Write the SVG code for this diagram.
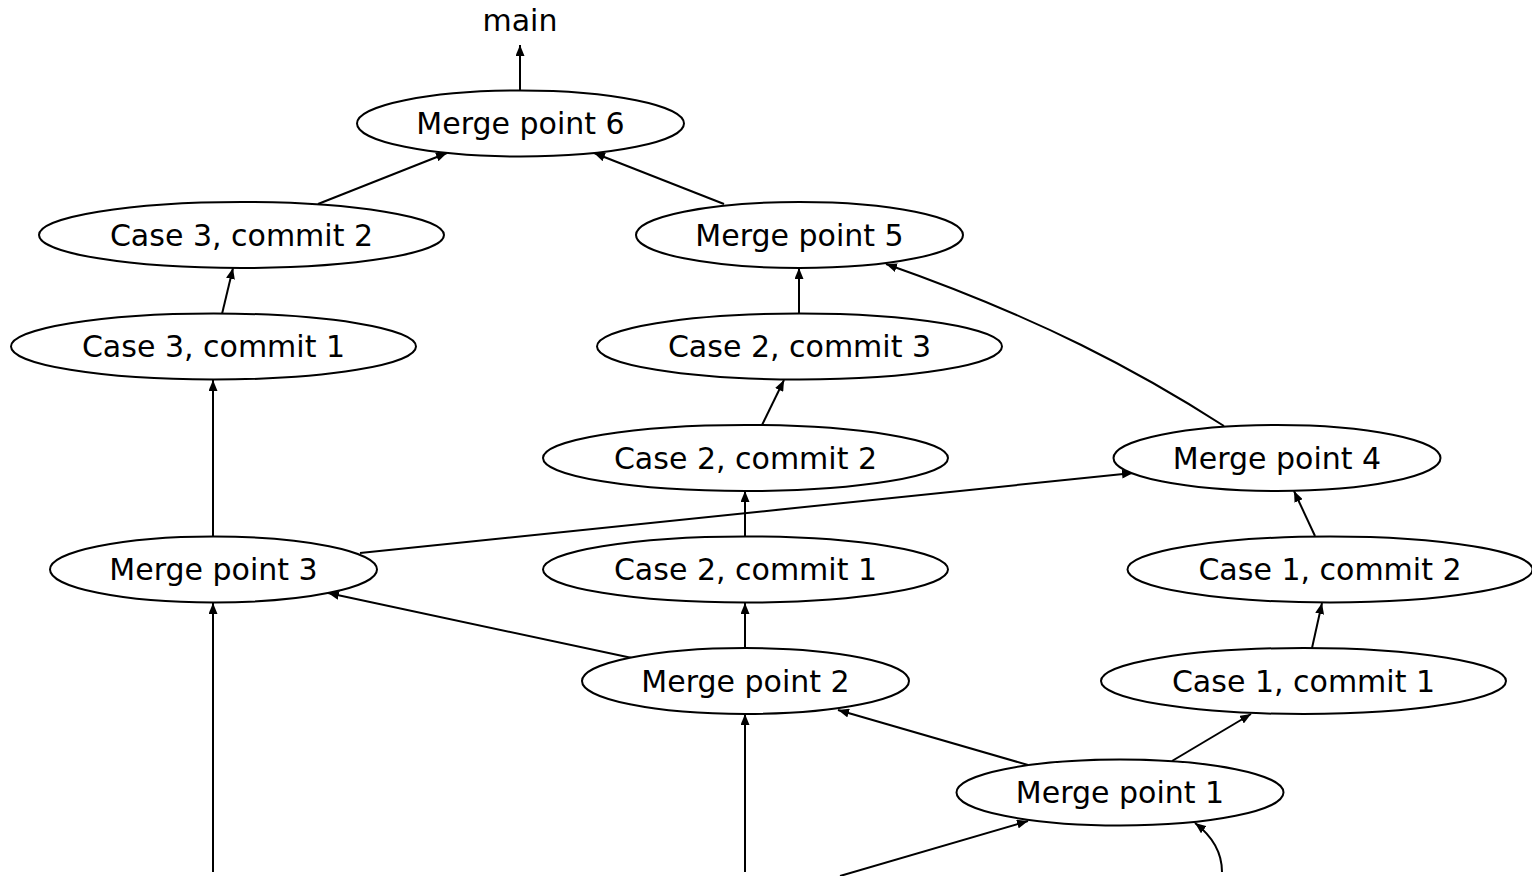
<svg xmlns="http://www.w3.org/2000/svg" width="1532" height="876" viewBox="0 0 1532 876">
<style>
.n ellipse{fill:#fff;stroke:#000;stroke-width:2}
text{font-family:"DejaVu Sans",sans-serif;font-size:30px;fill:#000;text-anchor:middle;dominant-baseline:central}
#edges path{fill:none;stroke:#000;stroke-width:2;marker-end:url(#ah)}
</style>
<defs>
<marker id="ah" markerUnits="userSpaceOnUse" markerWidth="12" markerHeight="9" refX="11" refY="4.5" orient="auto">
<path d="M0,0 L11,4.5 L0,9 z" fill="#000"/>
</marker>
</defs>
<rect width="1532" height="876" fill="#fff"/>
<g id="edges">
<path d="M520,90 L520,45"/>
<path d="M318,204 L447,153"/>
<path d="M724,204 L594,153"/>
<path d="M222,314 L233,268"/>
<path d="M799,314 L799,268"/>
<path d="M1224,426 C1140,372 1040,318 886,264"/>
<path d="M762,425 L784,380"/>
<path d="M213,536 L213,380"/>
<path d="M745,536 L745,491"/>
<path d="M360,553 L1133,473"/>
<path d="M1315,536 L1294,491"/>
<path d="M632,658 L328,593"/>
<path d="M745,648 L745,603"/>
<path d="M1312,648 L1322,603"/>
<path d="M1028,765 L838,710"/>
<path d="M1172,761 L1251,714"/>
<path d="M213,872 L213,603"/>
<path d="M745,872 L745,714"/>
<path d="M840,876 L1028,821"/>
<path d="M1222,872 C1222,852 1212,836 1195,823"/>
</g>
<text id="main" x="520" y="20">main</text>
<g id="mp6" class="n"><ellipse cx="520.5" cy="123.5" rx="163.5" ry="33"/><text x="520.5" y="123.5">Merge point 6</text></g>
<g id="c3c2" class="n"><ellipse cx="241.5" cy="235" rx="202.5" ry="33"/><text x="241.5" y="235">Case 3, commit 2</text></g>
<g id="mp5" class="n"><ellipse cx="799.5" cy="235" rx="163.5" ry="33"/><text x="799.5" y="235">Merge point 5</text></g>
<g id="c3c1" class="n"><ellipse cx="213.5" cy="346.5" rx="202.5" ry="33"/><text x="213.5" y="346.5">Case 3, commit 1</text></g>
<g id="c2c3" class="n"><ellipse cx="799.5" cy="346.5" rx="202.5" ry="33"/><text x="799.5" y="346.5">Case 2, commit 3</text></g>
<g id="c2c2" class="n"><ellipse cx="745.5" cy="458" rx="202.5" ry="33"/><text x="745.5" y="458">Case 2, commit 2</text></g>
<g id="mp4" class="n"><ellipse cx="1277" cy="458" rx="163.5" ry="33"/><text x="1277" y="458">Merge point 4</text></g>
<g id="mp3" class="n"><ellipse cx="213.5" cy="569.5" rx="163.5" ry="33"/><text x="213.5" y="569.5">Merge point 3</text></g>
<g id="c2c1" class="n"><ellipse cx="745.5" cy="569.5" rx="202.5" ry="33"/><text x="745.5" y="569.5">Case 2, commit 1</text></g>
<g id="c1c2" class="n"><ellipse cx="1330" cy="569.5" rx="202.5" ry="33"/><text x="1330" y="569.5">Case 1, commit 2</text></g>
<g id="mp2" class="n"><ellipse cx="745.5" cy="681" rx="163.5" ry="33"/><text x="745.5" y="681">Merge point 2</text></g>
<g id="c1c1" class="n"><ellipse cx="1303.5" cy="681" rx="202.5" ry="33"/><text x="1303.5" y="681">Case 1, commit 1</text></g>
<g id="mp1" class="n"><ellipse cx="1120" cy="792.5" rx="163.5" ry="33"/><text x="1120" y="792.5">Merge point 1</text></g>
</svg>
